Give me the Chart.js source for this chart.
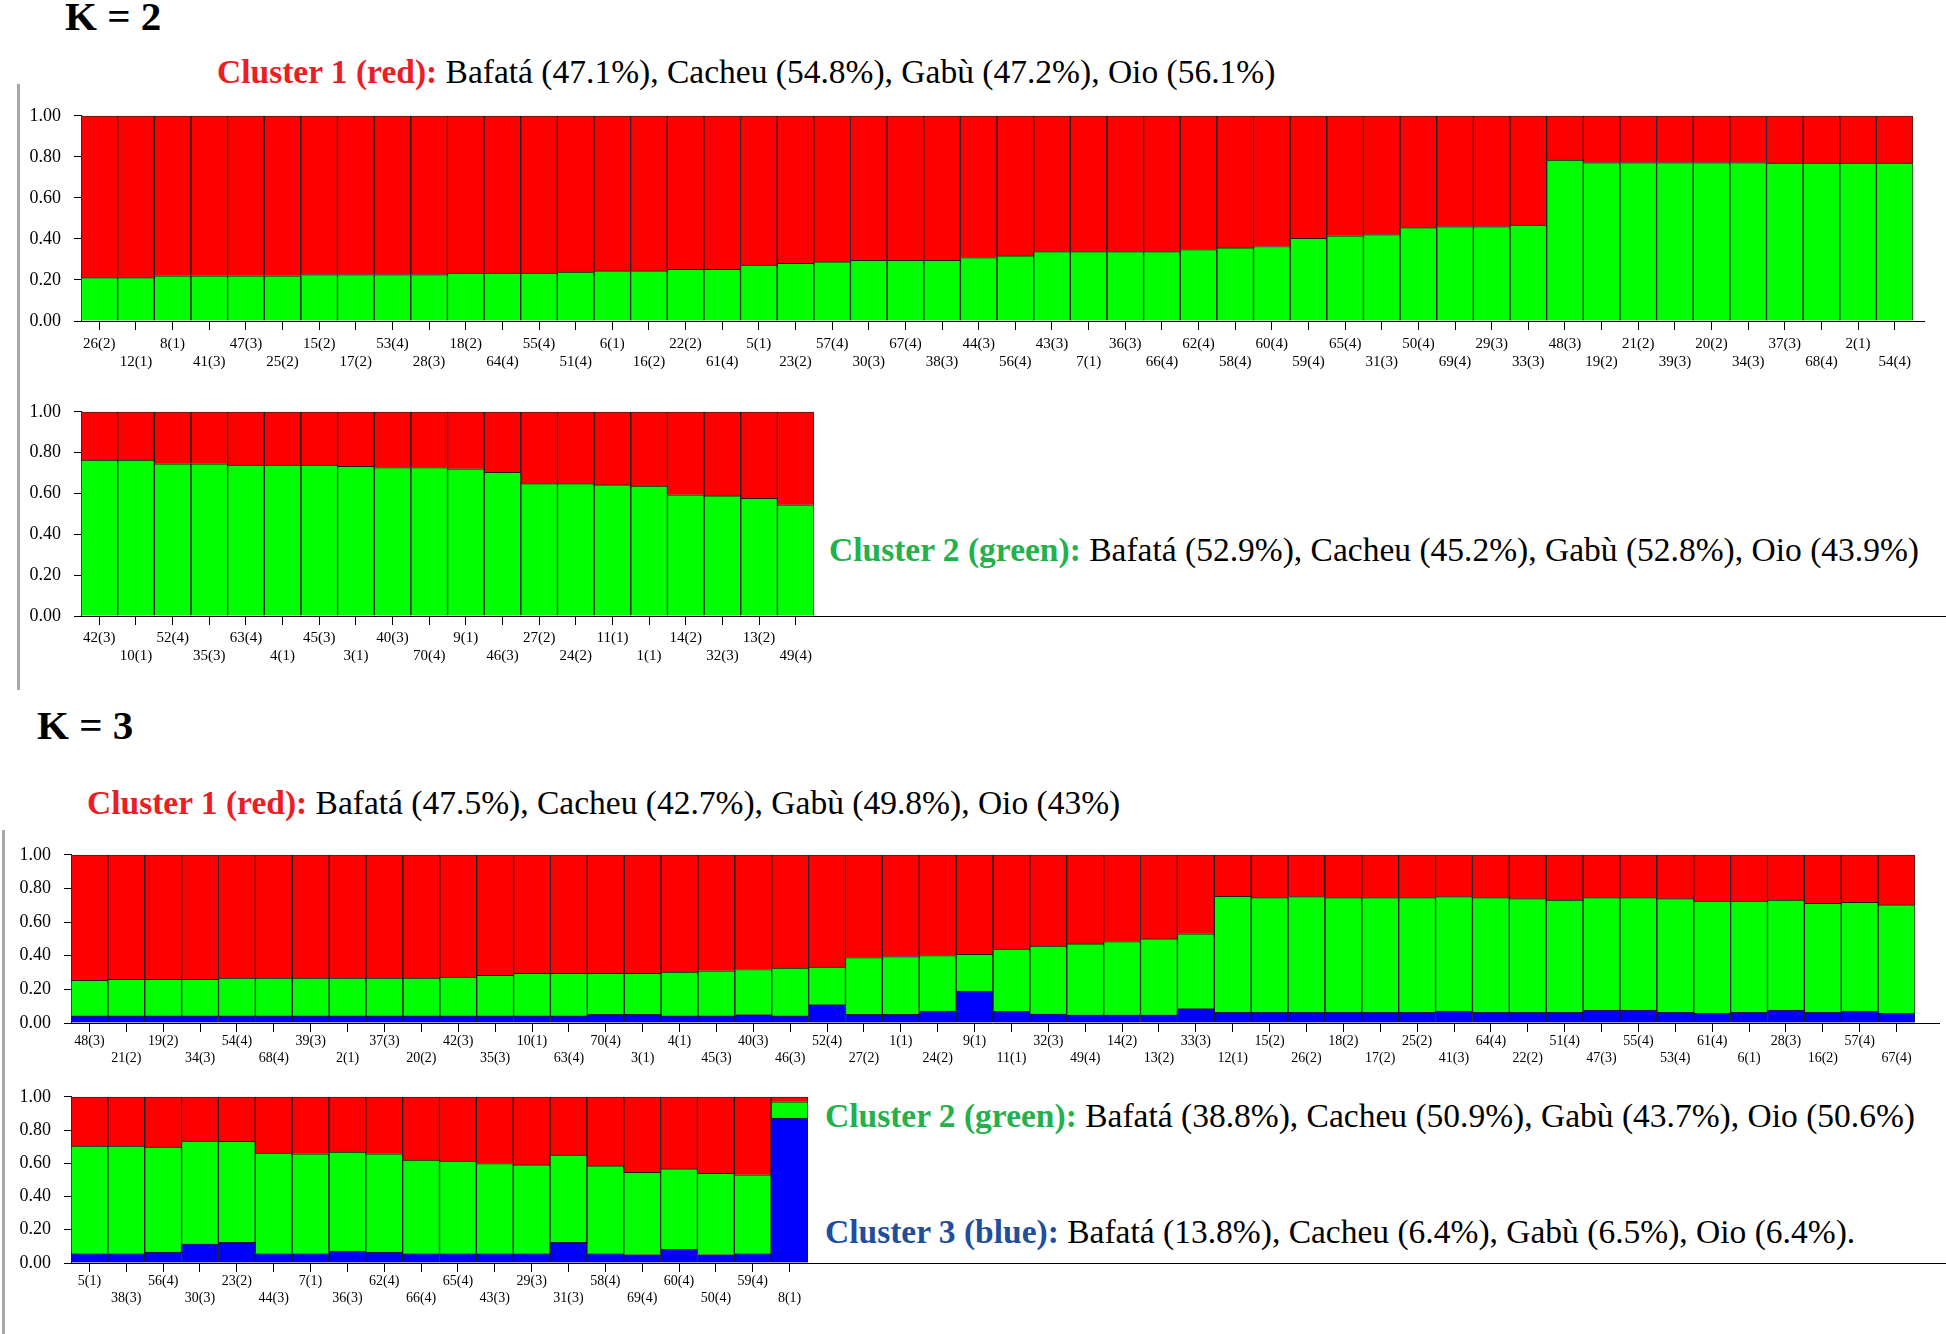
<!DOCTYPE html>
<html>
<head>
<meta charset="utf-8">
<script src="https://cdn.jsdelivr.net/npm/chart.js@4.4.1/dist/chart.umd.min.js"></script>
<style>
    body { margin: 0; width: 1946px; height: 1334px; background: #fff; position: relative; overflow: hidden; font-family: 'Liberation Serif', 'Times New Roman', serif; }
    .panel { position: absolute; }
    .txt { position: absolute; font-size: 33.5px; line-height: 33.5px; white-space: nowrap; color: #000; }
    .k-title { position: absolute; font-size: 41px; line-height: 41px; font-weight: bold; }
    .rule { position: absolute; background: #000; height: 1px; }
    .side { position: absolute; width: 3px; background: #a8a8a8; }
</style>
</head>
<body>

<div class="k-title" style="left:65px;top:-4px">K = 2</div>
<div class="txt" style="left:217px;top:55px"><b style="color:#ee1c24">Cluster 1 (red):</b> Bafatá (47.1%), Cacheu (54.8%), Gabù (47.2%), Oio (56.1%)</div>
<div class="txt" style="left:829px;top:533px"><b style="color:#22b14c">Cluster 2 (green):</b> Bafatá (52.9%), Cacheu (45.2%), Gabù (52.8%), Oio (43.9%)</div>

<div class="k-title" style="left:37px;top:705px">K = 3</div>
<div class="txt" style="left:87px;top:786px"><b style="color:#ee1c24">Cluster 1 (red):</b> Bafatá (47.5%), Cacheu (42.7%), Gabù (49.8%), Oio (43%)</div>
<div class="txt" style="left:825px;top:1099px"><b style="color:#22b14c">Cluster 2 (green):</b> Bafatá (38.8%), Cacheu (50.9%), Gabù (43.7%), Oio (50.6%)</div>
<div class="txt" style="left:825px;top:1215px"><b style="color:#1f4e9e">Cluster 3 (blue):</b> Bafatá (13.8%), Cacheu (6.4%), Gabù (6.5%), Oio (6.4%).</div>

<div class="side" style="left:17px;top:84px;height:606px"></div>
<div class="side" style="left:2px;top:830px;height:504px"></div>

<div class="rule" style="left:1914px;top:321px;width:11px"></div>
<div class="rule" style="left:814px;top:616px;width:1132px"></div>
<div class="rule" style="left:1914px;top:1023px;width:26px"></div>
<div class="rule" style="left:807px;top:1263px;width:1139px"></div>

<div class="panel" style="left:15px;top:92px;width:1901px;height:281px"><canvas id="k2a"></canvas></div>
<div class="panel" style="left:15px;top:388px;width:801px;height:280px"><canvas id="k2b"></canvas></div>
<div class="panel" style="left:0px;top:831px;width:1916px;height:240px"><canvas id="k3a"></canvas></div>
<div class="panel" style="left:0px;top:1073px;width:809px;height:238px"><canvas id="k3b"></canvas></div>

<script>
const yTicks = [0, 0.2, 0.4, 0.6, 0.8, 1.0];

// K = 2, first row
const k2Names1 = ['26(2)', '12(1)', '8(1)', '41(3)', '47(3)', '25(2)', '15(2)', '17(2)', '53(4)', '28(3)',
    '18(2)', '64(4)', '55(4)', '51(4)', '6(1)', '16(2)', '22(2)', '61(4)', '5(1)', '23(2)',
    '57(4)', '30(3)', '67(4)', '38(3)', '44(3)', '56(4)', '43(3)', '7(1)', '36(3)', '66(4)',
    '62(4)', '58(4)', '60(4)', '59(4)', '65(4)', '31(3)', '50(4)', '69(4)', '29(3)', '33(3)',
    '48(3)', '19(2)', '21(2)', '39(3)', '20(2)', '34(3)', '37(3)', '68(4)', '2(1)', '54(4)'];
const k2Green1 = [0.211, 0.211, 0.220, 0.220, 0.220, 0.220, 0.226, 0.226, 0.226, 0.226,
    0.233, 0.233, 0.233, 0.239, 0.244, 0.244, 0.252, 0.252, 0.273, 0.281,
    0.288, 0.296, 0.296, 0.296, 0.309, 0.317, 0.338, 0.338, 0.338, 0.338,
    0.348, 0.356, 0.363, 0.403, 0.415, 0.421, 0.455, 0.460, 0.460, 0.468,
    0.784, 0.772, 0.772, 0.772, 0.772, 0.772, 0.769, 0.769, 0.769, 0.769];
const k2Red1 = [0.789, 0.789, 0.780, 0.780, 0.780, 0.780, 0.774, 0.774, 0.774, 0.774,
    0.767, 0.767, 0.767, 0.761, 0.756, 0.756, 0.748, 0.748, 0.727, 0.719,
    0.712, 0.704, 0.704, 0.704, 0.691, 0.683, 0.662, 0.662, 0.662, 0.662,
    0.652, 0.644, 0.637, 0.597, 0.585, 0.579, 0.545, 0.540, 0.540, 0.532,
    0.216, 0.228, 0.228, 0.228, 0.228, 0.228, 0.231, 0.231, 0.231, 0.231];

// K = 2, second row
const k2Names2 = ['42(3)', '10(1)', '52(4)', '35(3)', '63(4)', '4(1)', '45(3)', '3(1)', '40(3)', '70(4)',
    '9(1)', '46(3)', '27(2)', '24(2)', '11(1)', '1(1)', '14(2)', '32(3)', '13(2)', '49(4)'];
const k2Green2 = [0.764, 0.764, 0.745, 0.745, 0.739, 0.739, 0.739, 0.733, 0.727, 0.727,
    0.721, 0.703, 0.648, 0.648, 0.642, 0.636, 0.594, 0.588, 0.576, 0.545];
const k2Red2 = [0.236, 0.236, 0.255, 0.255, 0.261, 0.261, 0.261, 0.267, 0.273, 0.273,
    0.279, 0.297, 0.352, 0.352, 0.358, 0.364, 0.406, 0.412, 0.424, 0.455];

// K = 3, first row
const k3Names1 = ['48(3)', '21(2)', '19(2)', '34(3)', '54(4)', '68(4)', '39(3)', '2(1)', '37(3)', '20(2)',
    '42(3)', '35(3)', '10(1)', '63(4)', '70(4)', '3(1)', '4(1)', '45(3)', '40(3)', '46(3)',
    '52(4)', '27(2)', '1(1)', '24(2)', '9(1)', '11(1)', '32(3)', '49(4)', '14(2)', '13(2)',
    '33(3)', '12(1)', '15(2)', '26(2)', '18(2)', '17(2)', '25(2)', '41(3)', '64(4)', '22(2)',
    '51(4)', '47(3)', '55(4)', '53(4)', '61(4)', '6(1)', '28(3)', '16(2)', '57(4)', '67(4)'];
const k3Blue1 = [0.042, 0.042, 0.042, 0.042, 0.042, 0.042, 0.042, 0.042, 0.042, 0.042,
    0.042, 0.042, 0.042, 0.042, 0.051, 0.051, 0.042, 0.042, 0.050, 0.042,
    0.109, 0.051, 0.051, 0.071, 0.190, 0.069, 0.055, 0.049, 0.049, 0.049,
    0.085, 0.063, 0.063, 0.063, 0.063, 0.063, 0.063, 0.071, 0.063, 0.063,
    0.063, 0.077, 0.077, 0.063, 0.057, 0.063, 0.077, 0.063, 0.071, 0.057];
const k3Green1 = [0.211, 0.217, 0.217, 0.217, 0.225, 0.225, 0.225, 0.225, 0.225, 0.225,
    0.231, 0.241, 0.254, 0.254, 0.245, 0.245, 0.260, 0.268, 0.268, 0.284,
    0.223, 0.338, 0.344, 0.330, 0.219, 0.370, 0.403, 0.421, 0.435, 0.451,
    0.445, 0.690, 0.682, 0.688, 0.682, 0.682, 0.682, 0.680, 0.682, 0.676,
    0.668, 0.668, 0.668, 0.676, 0.668, 0.662, 0.654, 0.648, 0.646, 0.645];
const k3Red1 = [0.747, 0.741, 0.741, 0.741, 0.733, 0.733, 0.733, 0.733, 0.733, 0.733,
    0.727, 0.717, 0.704, 0.704, 0.704, 0.704, 0.698, 0.690, 0.682, 0.674,
    0.668, 0.611, 0.605, 0.599, 0.591, 0.561, 0.542, 0.530, 0.516, 0.500,
    0.470, 0.247, 0.255, 0.249, 0.255, 0.255, 0.255, 0.249, 0.255, 0.261,
    0.269, 0.255, 0.255, 0.261, 0.275, 0.275, 0.269, 0.289, 0.283, 0.298];

// K = 3, second row
const k3Names2 = ['5(1)', '38(3)', '56(4)', '30(3)', '23(2)', '44(3)', '7(1)', '36(3)', '62(4)', '66(4)',
    '65(4)', '43(3)', '29(3)', '31(3)', '58(4)', '69(4)', '60(4)', '50(4)', '59(4)', '8(1)'];
const k3Blue2 = [0.057, 0.057, 0.065, 0.116, 0.124, 0.057, 0.057, 0.071, 0.065, 0.057,
    0.057, 0.057, 0.057, 0.124, 0.057, 0.051, 0.083, 0.051, 0.057, 0.872];
const k3Green2 = [0.647, 0.647, 0.633, 0.618, 0.608, 0.604, 0.600, 0.596, 0.592, 0.562,
    0.556, 0.541, 0.533, 0.525, 0.527, 0.495, 0.483, 0.489, 0.474, 0.098];
const k3Red2 = [0.296, 0.296, 0.302, 0.266, 0.268, 0.339, 0.343, 0.333, 0.343, 0.381,
    0.387, 0.402, 0.410, 0.351, 0.416, 0.454, 0.434, 0.460, 0.469, 0.030];

const RED = '#ff0000';
const GREEN = '#00ff00';
const BLUE = '#0000ff';

const StructurePage = {
    charts: {},

    init() {
        this.charts.k2a = this.renderPanel('k2a', k2Names1, [[k2Green1, GREEN], [k2Red1, RED]], { yWidth: 66, xHeight: 52, font: 15, pad: 5 });
        this.charts.k2b = this.renderPanel('k2b', k2Names2, [[k2Green2, GREEN], [k2Red2, RED]], { yWidth: 66, xHeight: 52, font: 15, pad: 4 });
        this.charts.k3a = this.renderPanel('k3a', k3Names1, [[k3Blue1, BLUE], [k3Green1, GREEN], [k3Red1, RED]], { yWidth: 71, xHeight: 48, font: 14, pad: 1 });
        this.charts.k3b = this.renderPanel('k3b', k3Names2, [[k3Blue2, BLUE], [k3Green2, GREEN], [k3Red2, RED]], { yWidth: 71, xHeight: 48, font: 14, pad: 1 });
    },

    renderPanel(id, names, series, cfg) {
        const ctx = document.getElementById(id);
        if (!ctx) return null;

        const xFont = { family: "'Liberation Serif', serif", size: cfg.font, lineHeight: 1.2 };
        const yFont = { family: "'Liberation Serif', serif", size: 18 };

        return new Chart(ctx, {
            type: 'bar',
            data: {
                labels: names,
                datasets: series.map(([values, color]) => ({
                    data: values,
                    backgroundColor: color,
                    borderColor: '#1a1a1a',
                    borderWidth: 1,
                    barPercentage: 1,
                    categoryPercentage: 1
                }))
            },
            options: {
                responsive: true,
                maintainAspectRatio: false,
                animation: false,
                layout: { padding: { top: 10, right: 1, left: 0, bottom: 0 } },
                plugins: { legend: { display: false }, tooltip: { enabled: false } },
                scales: {
                    x: {
                        stacked: true,
                        grid: { drawOnChartArea: false, offset: false, tickLength: 9, color: '#000' },
                        border: { color: '#000' },
                        ticks: {
                            autoSkip: false, maxRotation: 0, minRotation: 0, padding: cfg.pad,
                            color: '#000', font: xFont,
                            callback: (v, i) => i % 2 ? ['', names[i]] : names[i]
                        },
                        afterFit: s => { s.height = cfg.xHeight; }
                    },
                    y: {
                        stacked: true,
                        min: 0,
                        max: 1,
                        afterBuildTicks: axis => { axis.ticks = yTicks.map(v => ({ value: v })); },
                        grid: { drawOnChartArea: false, tickLength: 7, color: '#000' },
                        border: { color: '#000' },
                        ticks: { padding: 13, color: '#000', font: yFont, callback: v => v.toFixed(2) },
                        afterFit: s => { s.width = cfg.yWidth; }
                    }
                }
            }
        });
    }
};

StructurePage.init();
</script>
</body>
</html>
